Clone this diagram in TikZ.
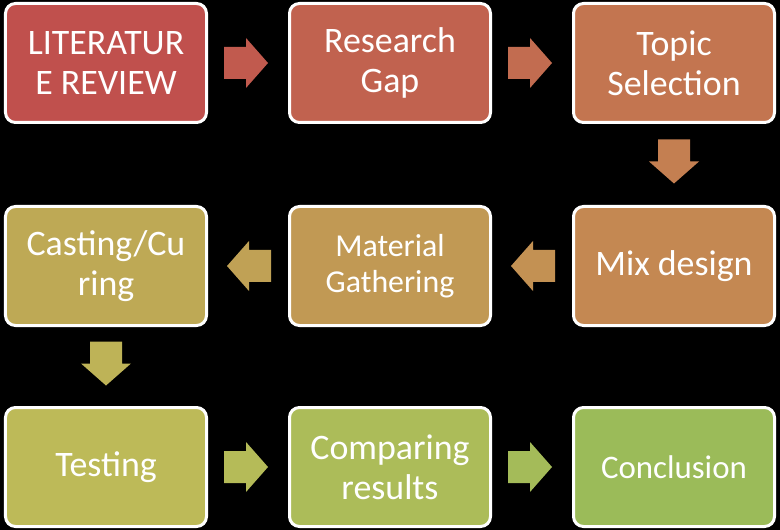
\documentclass[tikz,border=0pt]{standalone}
\usepackage{fontspec}
\setmainfont{Carlito}
\usetikzlibrary{calc}
\definecolor{c1}{HTML}{C0504D}
\definecolor{c2}{HTML}{C1624F}
\definecolor{c3}{HTML}{C37550}
\definecolor{c4}{HTML}{C48852}
\definecolor{c5}{HTML}{C19954}
\definecolor{c6}{HTML}{BEA955}
\definecolor{c7}{HTML}{BDBA58}
\definecolor{c8}{HTML}{ACBC59}
\definecolor{c9}{HTML}{9BBB59}
\definecolor{a1}{HTML}{C15A4E}
\definecolor{a2}{HTML}{C26C50}
\definecolor{a3}{HTML}{C47F51}
\definecolor{a4}{HTML}{C39153}
\definecolor{a5}{HTML}{C0A155}
\definecolor{a6}{HTML}{BEB357}
\definecolor{a7}{HTML}{B5BB58}
\definecolor{a8}{HTML}{A4BB59}
\begin{document}
\begin{tikzpicture}[x=1bp,y=1bp,
  stepbox/.style={draw=white,line width=3bp,rounded corners=10bp,
    minimum width=201bp,minimum height=119bp,inner sep=0pt,
    text=white,align=center,font=\fontsize{36}{40}\selectfont},
  smalltext/.style={font=\fontsize{32}{36}\selectfont},
  blockarrow/.pic={\fill[#1] (-22,-16) -- (0,-16) -- (0,-25) -- (22,0) -- (0,25) -- (0,16) -- (-22,16) -- cycle;}]
\fill[black] (0,0) rectangle (780,-530);
\useasboundingbox (0,0) rectangle (780,-530);
% boxes
\node[stepbox,fill=c1] (b1) at (106,-63) {LITERATUR\\E REVIEW};
\node[stepbox,fill=c2] (b2) at (390,-63) {Research\\Gap};
\node[stepbox,fill=c3] (b3) at (674,-63) {Topic\\Selection};
\node[stepbox,fill=c4] (b4) at (674,-266) {Mix design};
\node[stepbox,fill=c5,smalltext] (b5) at (390,-266) {Material\\Gathering};
\node[stepbox,fill=c6] (b6) at (106,-266) {Casting/Cu\\ring};
\node[stepbox,fill=c7] (b7) at (106,-467) {Testing};
\node[stepbox,fill=c8] (b8) at (390,-467) {Comparing\\results};
\node[stepbox,fill=c9,font=\fontsize{33}{36}\selectfont] (b9) at (674,-467) {Conclusion};
% arrows
\pic at ($(b1.east)!0.5!(b2.west)+(-2,0)$) {blockarrow=a1};
\pic at ($(b2.east)!0.5!(b3.west)+(-2,0)$) {blockarrow=a2};
\pic[rotate=-90] at ($(b3.south)!0.5!(b4.north)+(0,3)$) {blockarrow=a3};
\pic[rotate=180] at ($(b4.west)!0.5!(b5.east)+(1,0)$) {blockarrow=a4};
\pic[rotate=180] at ($(b5.west)!0.5!(b6.east)+(1,0)$) {blockarrow=a5};
\pic[rotate=-90] at ($(b6.south)!0.5!(b7.north)+(0,3)$) {blockarrow=a6};
\pic at ($(b7.east)!0.5!(b8.west)+(-2,0)$) {blockarrow=a7};
\pic at ($(b8.east)!0.5!(b9.west)+(-2,0)$) {blockarrow=a8};
\end{tikzpicture}
\end{document}
